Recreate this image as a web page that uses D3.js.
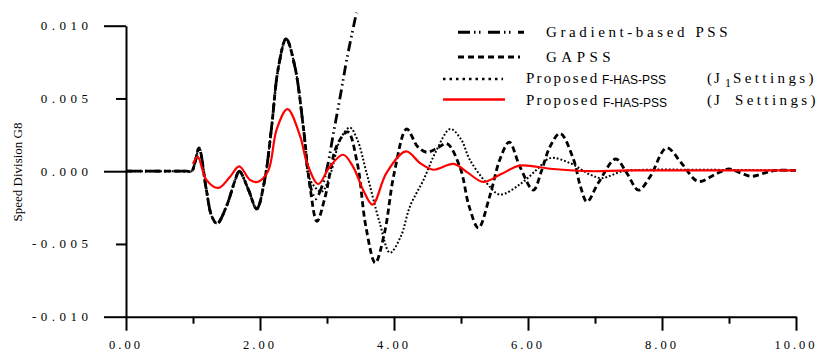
<!DOCTYPE html>
<html>
<head>
<meta charset="utf-8">
<script src="https://cdn.jsdelivr.net/npm/d3@7"></script>
<style>
  body { margin: 0; background: #fff; }
  svg { display: block; }
</style>
</head>
<body>
<script>
(function () {

	// time axis (s) and speed deviation values
	var xTicks = [0, 1, 2, 3, 4, 5, 6, 7, 8, 9, 10],
		xLabels = ["0.00", "2.00", "4.00", "6.00", "8.00", "10.00"],
		yTicks = [-0.010, -0.005, 0.000, 0.005, 0.010],
		yLabels = ["-0.010", "-0.005", "0.000", "0.005", "0.010"];

	// the three black curves share the first swing
	var commonStart = [
		[0, 0], [0.5, 0], [0.9, 0], [0.98, 0], [1.03, 0.0006], [1.09, 0.0016], [1.2, -0.0013], [1.28, -0.0031],
		[1.36, -0.0036], [1.5, -0.0024], [1.63, -0.0006], [1.69, 0.0], [1.83, -0.0013],
		[1.95, -0.0026], [2.07, -0.0006], [2.17, 0.0029], [2.27, 0.007], [2.39, 0.0091],
		[2.52, 0.0072], [2.65, 0.0029]
	];

	var gradientTail = [
		[2.74, -0.0008], [2.83, -0.0019], [2.92, -0.0011], [3.0, 0.0002], [3.1, 0.0027],
		[3.2, 0.0052], [3.3, 0.0078], [3.44, 0.0109]
	];

	var gapssTail = [
		[2.75, -0.0012], [2.85, -0.00345], [2.97, -0.0018], [3.15, 0.0018], [3.31, 0.0027],
		[3.45, 0.0006], [3.58, -0.0038], [3.72, -0.0063], [3.86, -0.0042], [4.0, -0.0002],
		[4.19, 0.0029], [4.35, 0.0017], [4.49, 0.0013], [4.65, 0.0016], [4.79, 0.0019],
		[4.99, 0.0002], [5.12, -0.0024], [5.26, -0.0039], [5.43, -0.0017], [5.58, 0.0008],
		[5.72, 0.002], [5.88, 0.0003], [6.08, -0.0013], [6.2, 0.0], [6.33, 0.0017],
		[6.48, 0.0026], [6.68, 0.0008], [6.78, -0.001], [6.88, -0.0021], [7.05, -0.0008],
		[7.31, 0.00084], [7.47, -0.0001], [7.65, -0.0013], [7.82, -0.0004], [8.07, 0.0016],
		[8.3, 0.0005], [8.54, -0.0007], [8.8, -0.0002], [9.0, 0.00015], [9.16, -0.0001],
		[9.34, -0.00035], [9.55, -0.0001], [9.7, 0.00005], [10.0, 0.00005]
	];

	var j1Tail = [
		[2.75, -0.0006], [2.92, -0.0014], [3.05, -0.0002], [3.2, 0.0022], [3.34, 0.003],
		[3.45, 0.0022], [3.59, -0.0001], [3.79, -0.0036], [3.94, -0.0056], [4.1, -0.0045],
		[4.24, -0.0024], [4.44, -0.0006], [4.62, 0.0013], [4.84, 0.0029], [5.0, 0.0022],
		[5.13, 0.0008], [5.38, -0.0008], [5.58, -0.0016], [5.88, -0.0009], [6.13, 0.0001],
		[6.33, 0.0009], [6.63, 0.00055], [6.93, -0.00024], [7.1, -0.00047], [7.42, 0.0],
		[7.8, 0.0001], [8.5, 0.0001], [10.0, 0.00005]
	];

	var jSettings = [
		[1.0, 0.0005], [1.07, 0.001], [1.2, -0.0006], [1.38, -0.00115], [1.55, -0.0004],
		[1.69, 0.00033], [1.85, -0.0006], [1.96, -0.00074], [2.12, 0.0], [2.25, 0.0029],
		[2.41, 0.00427], [2.6, 0.0024], [2.7, 0.0006], [2.87, -0.00088], [3.04, 0.0003],
		[3.24, 0.00113], [3.39, 0.0003], [3.55, -0.0014], [3.68, -0.0023], [3.89, -0.0001],
		[4.18, 0.00136], [4.39, 0.00056], [4.59, 0.0001], [4.89, 0.0005], [5.1, -0.0001],
		[5.33, -0.00074], [5.6, -0.0002], [5.88, 0.00038], [6.33, 0.00017], [6.93, 0.0],
		[7.5, 0.00005], [10.0, 0.00005]
	];

	var w = 819,
		h = 354,
		serif = "'Liberation Serif'",
		sans = "'Liberation Sans'";

	var svg = d3.select("body")
		.append("svg")
		.attr("width", w)
		.attr("height", h);

	var x = d3.scaleLinear().domain([0, 10]).range([126, 796]),
		y = d3.scaleLinear().domain([-0.01, 0.01]).range([316.7, 25.7]);

	// axes
	var yAxis = svg.append("g")
		.attr("transform", "translate(" + x(0) + ",0)")
		.call(d3.axisLeft(y).tickValues(yTicks).tickFormat("").tickSizeOuter(0));

	yAxis.selectAll(".tick line")
		.attr("x2", function (d, i) { return i % 2 === 0 ? -22 : -10; });

	var xAxis = svg.append("g")
		.attr("transform", "translate(0," + y(-0.01) + ")")
		.call(d3.axisBottom(x).tickValues(xTicks).tickFormat("").tickSizeOuter(0));

	xAxis.selectAll(".tick line")
		.attr("y2", function (d) { return d % 2 === 0 ? 14 : 7; });

	svg.selectAll(".domain, .tick line")
		.attr("stroke", "#000")
		.attr("stroke-width", 2);

	svg.selectAll("text.ylab")
		.data(yTicks)
		.enter()
		.append("text")
		.attr("class", "ylab")
		.attr("x", 92.5)
		.attr("y", function (d) { return y(d) + 4.5; })
		.attr("text-anchor", "end")
		.attr("font-size", 13)
		.attr("letter-spacing", 4.5)
		.style("font-family", serif)
		.text(function (d, i) { return yLabels[i]; });

	svg.selectAll("text.xlab")
		.data(xLabels)
		.enter()
		.append("text")
		.attr("class", "xlab")
		.attr("x", function (d, i) { return x(i * 2); })
		.attr("y", 349)
		.attr("text-anchor", "middle")
		.attr("font-size", 12.5)
		.attr("letter-spacing", 3)
		.style("font-family", serif)
		.text(function (d) { return d; });

	svg.append("text")
		.attr("transform", "translate(22,172) rotate(-90)")
		.attr("text-anchor", "middle")
		.attr("font-size", 13)
		.style("font-family", serif)
		.text("Speed Division G8");

	// curves
	var line = d3.line()
		.x(function (d) { return x(d[0]); })
		.y(function (d) { return y(d[1]); })
		.curve(d3.curveCatmullRom.alpha(0.5));

	var series = [
		{ data: commonStart.concat(j1Tail), color: "#000", width: 2, dash: "1.8,2" },
		{ data: commonStart.concat(gapssTail), color: "#000", width: 2.8, dash: "6,3.5" },
		{ data: commonStart.concat(gradientTail), color: "#000", width: 2.8, dash: "10,4,1.5,3.5,1.5,4" },
		{ data: jSettings, color: "#ff0000", width: 2.2, dash: null }
	];

	svg.selectAll("path.curve")
		.data(series)
		.enter()
		.append("path")
		.attr("class", "curve")
		.attr("fill", "none")
		.attr("d", function (d) { return line(d.data); })
		.attr("stroke", function (d) { return d.color; })
		.attr("stroke-width", function (d) { return d.width; })
		.attr("stroke-dasharray", function (d) { return d.dash; });

	// legend
	var legend = svg.append("g");

	var legendLines = [
		{ x1: 458, x2: 524, y: 32.3, color: "#000", width: 3, dash: "12,4,1.5,3.5,1.5,7.5" },
		{ x1: 458, x2: 520, y: 57, color: "#000", width: 3, dash: "6,4" },
		{ x1: 443, x2: 503, y: 79, color: "#000", width: 2.5, dash: "2.5,4" },
		{ x1: 443, x2: 505, y: 99.5, color: "#ff0000", width: 2.5, dash: null }
	];

	legend.selectAll("line")
		.data(legendLines)
		.enter()
		.append("line")
		.attr("x1", function (d) { return d.x1; })
		.attr("x2", function (d) { return d.x2; })
		.attr("y1", function (d) { return d.y; })
		.attr("y2", function (d) { return d.y; })
		.attr("stroke", function (d) { return d.color; })
		.attr("stroke-width", function (d) { return d.width; })
		.attr("stroke-dasharray", function (d) { return d.dash; });

	function spaced(tx, ty, str, ls) {
		return legend.append("text")
			.attr("x", tx).attr("y", ty)
			.attr("font-size", 15)
			.attr("letter-spacing", ls)
			.style("font-family", serif)
			.text(str);
	}

	spaced(546, 37, "Gradient-based PSS", 3.6);
	spaced(546, 62, "GAPSS", 4.5);
	spaced(526, 83, "Proposed", 2.2);
	spaced(526, 104.5, "Proposed", 2.2);

	legend.append("text")
		.attr("x", 602).attr("y", 84)
		.attr("font-size", 12)
		.style("font-family", sans)
		.text("F-HAS-PSS");
	legend.append("text")
		.attr("x", 603).attr("y", 107)
		.attr("font-size", 12)
		.style("font-family", sans)
		.text("F-HAS-PSS");

	spaced(707, 83, "(J", 2);
	legend.append("text")
		.attr("x", 725).attr("y", 87)
		.attr("font-size", 12)
		.style("font-family", serif)
		.text("1");
	spaced(733, 83, "Settings)", 3.4);

	spaced(707, 104.5, "(J", 2);
	spaced(735, 104.5, "Settings)", 3.4);

}());
</script>
</body>
</html>
